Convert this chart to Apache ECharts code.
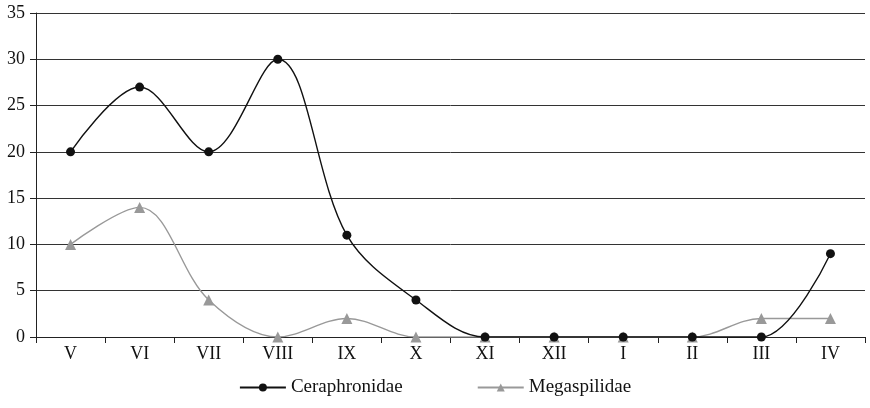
<!DOCTYPE html>
<html><head><meta charset="utf-8">
<script src="https://cdn.jsdelivr.net/npm/echarts@6/dist/echarts.min.js"></script>
<style>html,body{margin:0;padding:0;background:#fff}#c{width:870px;height:408px}</style>
</head><body><div id="c"></div>
<script>
const categories = ['V','VI','VII','VIII','IX','X','XI','XII','I','II','III','IV'];
const ceraphronidae = [20, 27, 20, 30, 11, 4, 0, 0, 0, 0, 0, 9];
const megaspilidae = [10, 14, 4, 0, 2, 0, 0, 0, 0, 0, 2, 2];
const yTicks = [0, 35, 5];

const font = 'Liberation Serif, Times New Roman, serif';
const chart = echarts.init(document.getElementById('c'));
chart.setOption({
  animation: false,
  textStyle: { fontFamily: font },
  grid: { left: 36, right: 5, top: 13, bottom: 71, containLabel: false },
  legend: {
    bottom: 6, left: 'center', itemGap: 74, itemWidth: 46, itemHeight: 10,
    textStyle: { fontFamily: font, fontSize: 19, color: '#111' },
    data: ['Ceraphronidae', 'Megaspilidae']
  },
  xAxis: {
    type: 'category', data: categories, boundaryGap: true,
    axisLine: { lineStyle: { color: '#222', width: 1 } },
    axisTick: { show: true, length: 6, lineStyle: { color: '#222' } },
    axisLabel: { fontFamily: font, fontSize: 18, color: '#111', margin: 8 }
  },
  yAxis: {
    type: 'value', min: yTicks[0], max: yTicks[1], interval: yTicks[2],
    axisLine: { show: true, lineStyle: { color: '#222', width: 1 } },
    axisTick: { show: true, length: 6, lineStyle: { color: '#222' } },
    axisLabel: { fontFamily: font, fontSize: 18, color: '#111', margin: 11 },
    splitLine: { show: true, lineStyle: { color: '#333', width: 1 } }
  },
  series: [
    {
      name: 'Ceraphronidae', type: 'line', data: ceraphronidae, smooth: 0.35,
      symbol: 'circle', symbolSize: 9,
      lineStyle: { color: '#111', width: 1.4 },
      itemStyle: { color: '#111' }, z: 3
    },
    {
      name: 'Megaspilidae', type: 'line', data: megaspilidae, smooth: 0.35,
      symbol: 'triangle', symbolSize: 11,
      lineStyle: { color: '#999', width: 1.4 },
      itemStyle: { color: '#999' }, z: 2
    }
  ]
});
</script></body></html>
